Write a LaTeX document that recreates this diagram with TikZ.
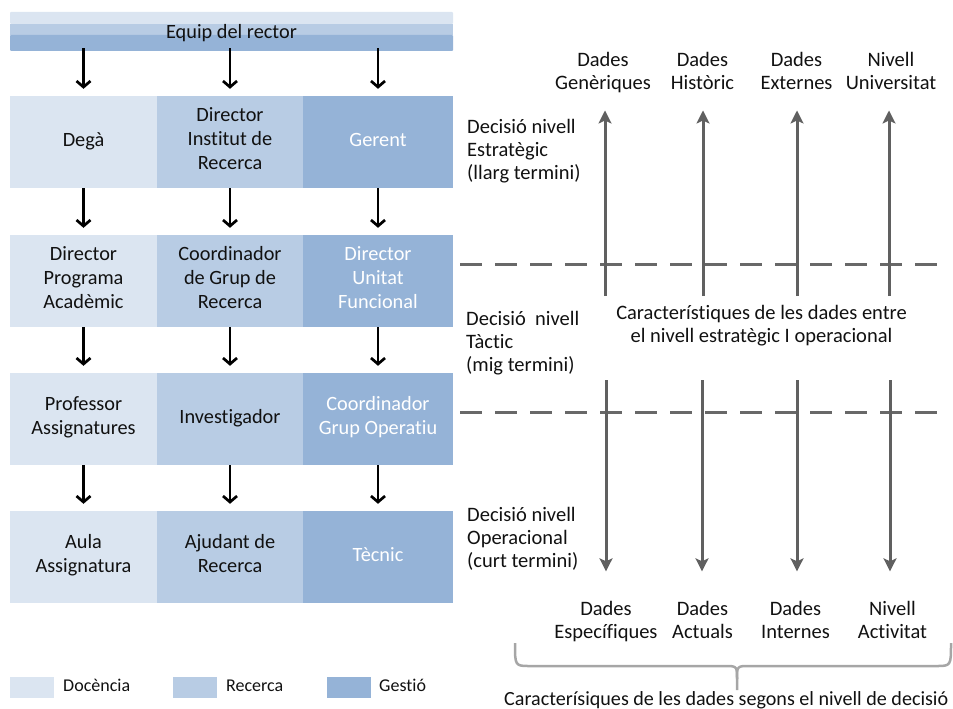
\documentclass[tikz,border=0pt]{standalone}
\usepackage{fontspec}
\setmainfont{Carlito}[Ligatures={NoCommon,NoContextual}]
\usetikzlibrary{arrows.meta}
\definecolor{docc}{HTML}{DBE5F1}
\definecolor{rec}{HTML}{B8CCE4}
\definecolor{gest}{HTML}{95B3D7}
\definecolor{ink}{HTML}{111111}
\definecolor{axis}{HTML}{606060}
\definecolor{bracegray}{HTML}{A6A6A6}
\begin{document}
\begin{tikzpicture}[x=1pt,y=-1pt,
  txt/.style={inner sep=0pt, text=ink, font=\fontsize{20.3}{24}\selectfont,
    execute at begin node=\strut, execute at end node=\strut},
  cell/.style={txt, align=center, minimum height=92pt},
  c1/.style={cell, fill=docc, minimum width=147pt},
  c2/.style={cell, fill=rec, minimum width=146pt},
  c3/.style={cell, fill=gest, minimum width=150pt, text=white},
  side/.style={txt, align=left, anchor=west, font=\fontsize{20.5}{23}\selectfont},
  dlabel/.style={txt, align=center, font=\fontsize{20.5}{23}\selectfont},
  karr/.style={draw=black, line width=2.5pt,
    -{Straight Barb[length=6pt,width=14pt,line width=2.7pt]}, shorten >=7pt},
  garr/.style={draw=axis, line width=3pt,
    -{Stealth[length=13pt,width=13pt,inset=3pt]}},
  level/.style={draw=axis!95, line width=3pt, dash pattern=on 22pt off 13pt},
  legsq/.style={inner sep=0pt, minimum width=44pt, minimum height=21pt},
  legtxt/.style={txt, anchor=west, font=\fontsize{18}{22}\selectfont}
]
\useasboundingbox (0,0) rectangle (953,709);

% ---------- top bar: Equip del rector ----------
\fill[docc, rounded corners=1pt] (10,12) rectangle (453,24);
\fill[rec] (10,24) rectangle (453,35);
\fill[gest, rounded corners=1pt] (10,35) rectangle (453,51);
\node[txt, minimum width=443pt, minimum height=39pt] (rector) at (231.5,31.5)
  {\raisebox{-2pt}{Equip del rector}};

% ---------- organisational grid ----------
\node[c1] (d1) at (83.5,142) {Degà};
\node[c2] (r1) at (230,142)  {Director\\Institut de\\Recerca};
\node[c3] (g1) at (378,142)  {Gerent};

\node[c1] (d2) at (83.5,281) {Director\\Programa\\Acadèmic};
\node[c2] (r2) at (230,281)  {Coordinador\\de Grup de\\Recerca};
\node[c3] (g2) at (378,281)  {Director\\Unitat\\Funcional};

\node[c1] (d3) at (83.5,419) {Professor\\Assignatures};
\node[c2] (r3) at (230,419)  {Investigador};
\node[c3] (g3) at (378,419)  {Coordinador\\Grup Operatiu};

\node[c1] (d4) at (83.5,557) {Aula\\Assignatura};
\node[c2] (r4) at (230,557)  {Ajudant de\\Recerca};
\node[c3] (g4) at (378,557)  {Tècnic};

% arrows down the hierarchy
\foreach \c in {d,r,g}{
  \draw[karr, shorten <=-3pt] (\c1 |- rector.south) -- (\c1);
  \draw[karr] (\c1) -- (\c2);
  \draw[karr] (\c2) -- (\c3);
  \draw[karr] (\c3) -- (\c4);
}

% ---------- legend ----------
\node[legsq, fill=docc] (ld) at (32,687.5) {};
\node[legtxt] (ldt) at (63,687.5) {Docència};
\node[legsq, fill=rec] (lr) at (194.5,687.5) {};
\node[legtxt] (lrt) at (226,687.5) {Recerca};
\node[legsq, fill=gest] (lg) at (349,687.5) {};
\node[legtxt] (lgt) at (379,687.5) {Gestió};

% ---------- decision levels ----------
\node[side] (estr) at (467,152.4) {Decisió nivell\\Estratègic\\(llarg termini)};
\node[side] (tact) at (466,345)   {Decisió~ nivell\\Tàctic\\(mig termini)};
\node[side] (oper) at (467,541)   {Decisió nivell\\Operacional\\(curt termini)};

\draw[level] (460,264) -- (940,264);
\draw[level] (460,412) -- (940,412);

\node[dlabel] (mid) at (761.5,327)
  {Característiques de les dades entre\\el nivell estratègic I operacional};

% data characteristics, strategic end
\node[dlabel] (gen) at (603,74.2)   {Dades\\Genèriques};
\node[dlabel] (his) at (702.5,74.2) {Dades\\Històric};
\node[dlabel] (ext) at (796.5,74.2) {Dades\\Externes};
\node[dlabel] (uni) at (891,74.2)   {Nivell\\Universitat};

% data characteristics, operational end
\node[dlabel] (esp) at (606,623.6)   {Dades\\Específiques};
\node[dlabel] (act) at (702.5,623.6) {Dades\\Actuals};
\node[dlabel] (int) at (795.5,623.6) {Dades\\Internes};
\node[dlabel] (acv) at (892.5,623.6) {Nivell\\Activitat};

\coordinate (u1) at (605,296);
\coordinate (u2) at (703,296);
\coordinate (u3) at (797,296);
\coordinate (u4) at (889,296);
\draw[garr, shorten >=14pt] (u1) -- (u1 |- gen.south);
\draw[garr, shorten >=14pt] (u2) -- (u2 |- his.south);
\draw[garr, shorten >=14pt] (u3) -- (u3 |- ext.south);
\draw[garr, shorten >=14pt] (u4) -- (u4 |- uni.south);

\coordinate (w1) at (606,380);
\coordinate (w2) at (702,380);
\coordinate (w3) at (797,380);
\coordinate (w4) at (890,380);
\draw[garr, shorten >=30pt] (w1) -- (w1 |- esp.north);
\draw[garr, shorten >=30pt] (w2) -- (w2 |- act.north);
\draw[garr, shorten >=30pt] (w3) -- (w3 |- int.north);
\draw[garr, shorten >=30pt] (w4) -- (w4 |- acv.north);

% ---------- brace and caption ----------
\draw[bracegray, line width=2.5pt, line join=round]
  (515,643) .. controls (515,666) .. (530,666) -- (724,666)
  .. controls (737,666) .. (737,679) -- (737,690);
\draw[bracegray, line width=2.5pt, line join=round]
  (737,679) .. controls (737,666) .. (750,666) -- (936,666)
  .. controls (951,666) .. (951,643);
\node[txt, anchor=base west, font=\fontsize{20.1}{24}\selectfont,
  execute at begin node={}, execute at end node={}]
  (cap) at (504,705) {Caracterísiques de les dades segons el nivell de decisió};
\end{tikzpicture}
\end{document}
